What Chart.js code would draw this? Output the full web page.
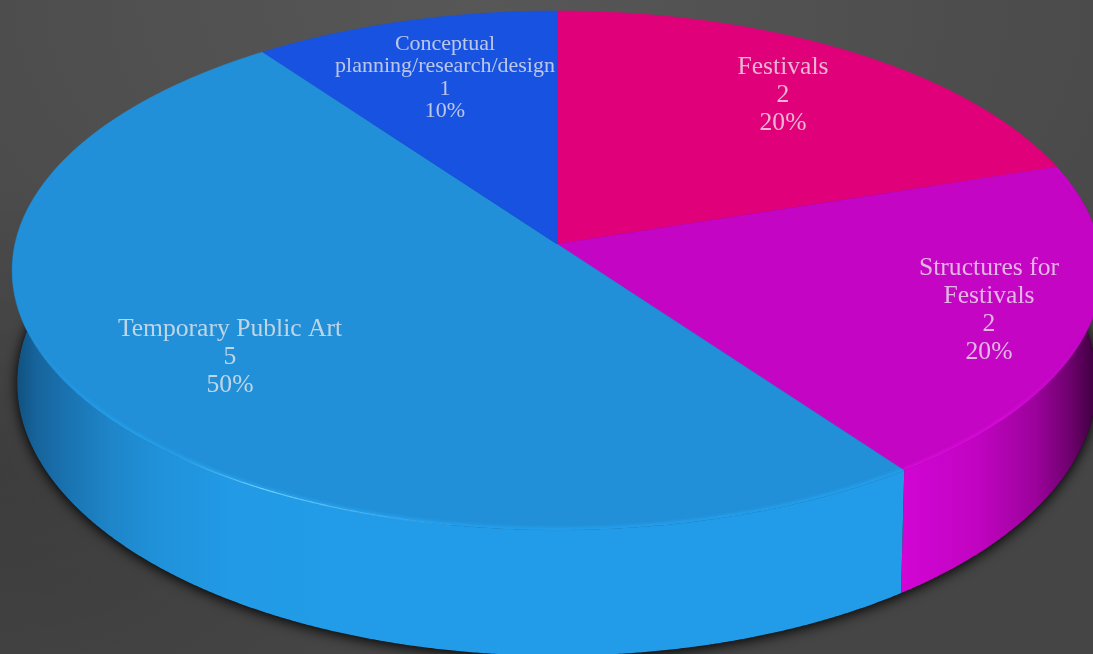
<!DOCTYPE html>
<html>
<head>
<meta charset="utf-8">
<title>Projects by type</title>
<script src="https://cdn.jsdelivr.net/npm/chart.js@4/dist/chart.umd.min.js"></script>
<style>
	html, body { margin: 0; padding: 0; overflow: hidden; }
	body {
		width: 1093px;
		height: 654px;
		background:
			radial-gradient(ellipse 420px 300px at 0px 470px, rgba(0, 0, 0, 0.14), rgba(0, 0, 0, 0)),
			radial-gradient(ellipse 1000px 640px at 480px 0px, #575757 0%, #4c4c4c 55%, #454545 100%);
	}
	canvas { display: block; }
</style>
</head>
<body>
<canvas id="pie" width="1093" height="654"></canvas>
<script>
const categories = ['Festivals', 'Structures for Festivals', 'Temporary Public Art', 'Conceptual planning/research/design'];
const projectCounts = [2, 2, 5, 1];
const percentLabels = ['20%', '20%', '50%', '10%'];
const labelLines = [['Festivals'], ['Structures for', 'Festivals'], ['Temporary Public Art'], ['Conceptual', 'planning/research/design']];
const sliceColors = ['#e0007a', '#c405c4', '#2190d8', '#1852e0'];

// top face and bottom rim of the tilted disc
const topFace = { cx: 557, cy: 244, rx: 542, ry: 256.8, k: -0.102 };
const bottomFace = { cx: 557, cy: 355, rx: 537, ry: 270, k: -0.102 };
const WALL_FROM = Math.PI / 3;
const WALL_TO = (5 * Math.PI) / 3;
const STEP = Math.PI / 720;

// side wall shading, left to right
const wallShades = {
	2: [[12, '#0f4c78'], [35, '#16639a'], [70, '#1a74b2'], [110, '#1e85c8'], [160, '#2092da'], [230, '#229ae5'], [320, '#229ce8'], [905, '#229ce8']],
	1: [[900, '#d205d5'], [975, '#c204c2'], [1035, '#9c029c'], [1070, '#6e016e'], [1093, '#420042']],
};

const labelStyles = [
	{ x: 783, y: 67, size: 25.6, lead: 28 },
	{ x: 989, y: 268, size: 25.6, lead: 28 },
	{ x: 230, y: 329, size: 25.6, lead: 28 },
	{ x: 445, y: 44, size: 22, lead: 22.5 },
];

function project(face, theta) {
	const x = Math.sin(theta);
	const y = -Math.cos(theta);
	const d = 1 + face.k * y;
	return [face.cx + (face.rx * x) / d, face.cy + (face.ry * y) / d];
}

function traceRim(ctx, face, from, to) {
	const dir = to >= from ? 1 : -1;
	for (let t = from; dir * (t - to) < 0; t += dir * STEP) {
		const p = project(face, t);
		ctx.lineTo(p[0], p[1]);
	}
	const end = project(face, to);
	ctx.lineTo(end[0], end[1]);
}

// Angles come from the arc elements, which start at -PI/2
function sliceAngles(arc) {
	return [arc.startAngle + Math.PI / 2, arc.endAngle + Math.PI / 2];
}

function drawWalls(ctx, arcs) {
	// shadow under the disc
	ctx.save();
	ctx.shadowColor = 'rgba(0, 0, 0, 1)';
	ctx.shadowBlur = 13;
	ctx.shadowOffsetY = 2;
	ctx.fillStyle = '#111';
	ctx.beginPath();
	traceRim(ctx, bottomFace, 0, Math.PI * 2);
	ctx.fill();
	ctx.restore();

	arcs.forEach((arc, i) => {
		const [start, end] = sliceAngles(arc);
		const from = Math.max(start, WALL_FROM);
		const to = Math.min(end, WALL_TO);
		if (to <= from || !wallShades[i]) return;
		const grad = ctx.createLinearGradient(0, 0, 1093, 0);
		wallShades[i].forEach((s) => grad.addColorStop(s[0] / 1093, s[1]));
		ctx.fillStyle = grad;
		ctx.beginPath();
		traceRim(ctx, topFace, from, to);
		traceRim(ctx, bottomFace, to, from);
		ctx.closePath();
		ctx.fill();
	});
}

function traceWedge(ctx, start, end) {
	ctx.beginPath();
	ctx.moveTo(topFace.cx, topFace.cy);
	traceRim(ctx, topFace, start, end);
	ctx.closePath();
}

function drawTop(ctx, arcs) {
	arcs.forEach((arc) => {
		const [start, end] = sliceAngles(arc);
		ctx.fillStyle = arc.options.backgroundColor;
		ctx.strokeStyle = arc.options.backgroundColor;
		ctx.lineWidth = 0.6;
		traceWedge(ctx, start, end);
		ctx.fill();
		ctx.stroke();
	});
}

function fadeStroke(ctx, x0, x1, stops) {
	const g = ctx.createLinearGradient(x0, 0, x1, 0);
	stops.forEach((s) => g.addColorStop(s[0], s[1]));
	ctx.strokeStyle = g;
}

// soft bevel where the top face meets the wall
function drawBevel(ctx, arcs) {
	const deg = Math.PI / 180;
	const [magentaFrom, magentaTo] = sliceAngles(arcs[1]);
	const [blueFrom, blueTo] = sliceAngles(arcs[2]);

	ctx.save();
	ctx.lineCap = 'butt';

	ctx.save();
	traceWedge(ctx, magentaFrom, magentaTo);
	ctx.clip();
	ctx.filter = 'blur(1.5px)';
	fadeStroke(ctx, 905, 1085, [[0, 'rgba(214, 12, 216, 1)'], [0.55, 'rgba(214, 12, 216, 0.9)'], [1, 'rgba(214, 12, 216, 0)']]);
	ctx.lineWidth = 5;
	ctx.beginPath();
	traceRim(ctx, topFace, magentaFrom, magentaTo);
	ctx.stroke();
	ctx.restore();

	ctx.save();
	traceWedge(ctx, blueFrom, blueTo);
	ctx.clip();
	ctx.filter = 'blur(1.5px)';
	fadeStroke(ctx, 25, 120, [[0, 'rgba(37, 159, 236, 0)'], [1, 'rgba(37, 159, 236, 1)']]);
	ctx.lineWidth = 5;
	ctx.beginPath();
	// lower rim only, the far side of the disc has no bevel
	traceRim(ctx, topFace, blueFrom, 255 * deg);
	ctx.stroke();
	ctx.restore();

	fadeStroke(ctx, 170, 470, [
		[0, 'rgba(120, 215, 255, 0)'],
		[0.3, 'rgba(130, 222, 255, 0.85)'],
		[0.55, 'rgba(120, 215, 255, 0.6)'],
		[1, 'rgba(120, 215, 255, 0)'],
	]);
	ctx.lineWidth = 1.1;
	ctx.beginPath();
	traceRim(ctx, topFace, 190 * deg, 240 * deg);
	ctx.stroke();
	ctx.restore();
}

function drawLabels(ctx) {
	ctx.save();
	ctx.textAlign = 'center';
	ctx.textBaseline = 'middle';
	ctx.fillStyle = 'rgba(235, 232, 235, 0.78)';
	labelLines.forEach((name, i) => {
		const st = labelStyles[i];
		ctx.font = st.size + 'px "Liberation Serif"';
		const lines = name.concat([String(projectCounts[i]), percentLabels[i]]);
		lines.forEach((line, n) => ctx.fillText(line, st.x, st.y + n * st.lead));
	});
	ctx.restore();
}

const tiltedPie = {
	id: 'tiltedPie',
	beforeDatasetDraw(chart, args) {
		const ctx = chart.ctx;
		const arcs = args.meta.data;
		drawWalls(ctx, arcs);
		drawTop(ctx, arcs);
		drawBevel(ctx, arcs);
		return false;
	},
	afterDatasetsDraw(chart) {
		drawLabels(chart.ctx);
	},
};

new Chart(document.getElementById('pie').getContext('2d'), {
	type: 'pie',
	data: {
		labels: categories,
		datasets: [{ data: projectCounts, backgroundColor: sliceColors, borderWidth: 0 }],
	},
	options: {
		responsive: false,
		animation: false,
		plugins: { legend: { display: false }, tooltip: { enabled: false } },
	},
	plugins: [tiltedPie],
});
</script>
</body>
</html>
